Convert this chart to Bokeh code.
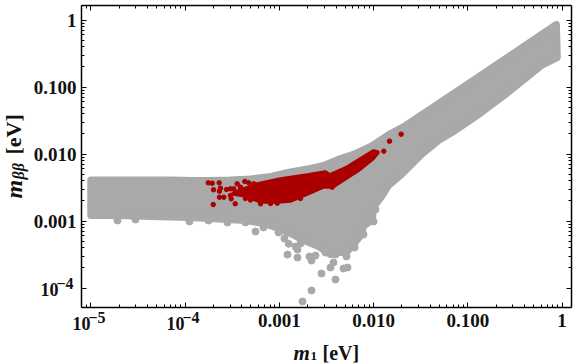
from math import pi
from bokeh.plotting import figure
from bokeh.models import LogAxis, FixedTicker, Label
from bokeh.embed import file_html
from bokeh.resources import INLINE

# log10 of m1 [eV] and m_bb [eV]
grey_band_log_m1 = [-5.00,-4.79,-4.58,-4.37,-4.15,-3.94,-3.73,-3.52,-3.31,-3.09,-2.88,-2.67,-2.53,-2.35,-2.19,-2.02,-1.82,-1.66,-1.31,-0.96,-0.60,-0.25,-0.06,
    -0.055,-0.05,-0.218,-0.60,-0.855,-1.131,-1.31,-1.491,-1.703,-1.841,-1.905,-2.00,-2.011,-2.107,-2.128,-2.213,-2.287,-2.372,-2.457,-2.584,-2.764,-2.86,-3.008,-3.168,-3.359,-3.55,-3.953,-4.367,-4.706,-5.00]
grey_band_log_mbb = [-2.388,-2.388,-2.388,-2.388,-2.388,-2.396,-2.396,-2.388,-2.373,-2.336,-2.269,-2.216,-2.172,-2.067,-1.993,-1.881,-1.694,-1.575,-1.246,-0.918,-0.575,-0.246,-0.067,
    -0.306,-0.56,-0.679,-1.112,-1.381,-1.649,-1.799,-2.007,-2.306,-2.470,-2.619,-2.799,-2.978,-3.082,-3.201,-3.351,-3.470,-3.470,-3.5,-3.381,-3.276,-3.201,-3.112,-3.037,-2.993,-2.978,-2.948,-2.933,-2.918,-2.918]
grey_stray_log_m1 = [-4.717,-4.526,-3.953,-3.751,-3.55,-3.359,-3.168,-3.008,-3.252,-2.913,-2.807,-2.807,-2.658,-2.68,-2.616,-2.457,-2.404,-2.425,-2.319,-2.276,-2.404,-2.552,-2.658,-2.754,-2.107,-2.0,-2.213,-2.775,-2.51,-2.9,
    -2.054,-1.979,-2.202,-2.287,-2.17,-2.828,-2.945]
grey_stray_log_mbb = [-2.993,-2.978,-3.007,-2.993,-3.022,-3.022,-3.097,-3.172,-3.157,-3.5,-3.545,-3.425,-3.590,-3.53,-3.515,-3.694,-3.5,-3.619,-3.709,-3.694,-3.873,-3.784,-4.037,-4.201,-3.201,-3.007,-3.366,-3.336,-3.47,-3.34,
    -2.903,-2.828,-3.396,-3.530,-3.261,-3.381,-3.261]
red_band_log_m1 = [-3.412,-3.231,-2.987,-2.701,-2.51,-2.467,-2.276,-2.139,-2.0,-1.958,-2.011,-2.17,-2.351,-2.436,-2.531,-2.701,-2.881,-3.019,-3.199,-3.359,-3.486]
red_band_log_mbb = [-2.545,-2.455,-2.381,-2.321,-2.276,-2.321,-2.201,-2.082,-1.963,-1.978,-2.067,-2.246,-2.410,-2.485,-2.485,-2.590,-2.694,-2.709,-2.709,-2.619,-2.590]
red_stray_log_m1 = [-3.754,-3.712,-3.638,-3.698,-3.624,-3.635,-3.635,-3.589,-3.518,-3.51,-3.701,-3.468,-3.447,-3.366,-3.324,-3.271,-3.56,-3.518,-3.483,-3.412,-3.199,-3.022,-2.439,-1.891,-1.831,-1.707,
    -3.093,-2.775,-3.359,-3.306]
red_stray_log_mbb = [-2.43,-2.436,-2.43,-2.534,-2.51,-2.555,-2.645,-2.645,-2.619,-2.669,-2.754,-2.743,-2.445,-2.41,-2.43,-2.445,-2.53,-2.52,-2.52,-2.495,-2.743,-2.734,-2.495,-1.958,-1.809,-1.704,
    -2.739,-2.664,-2.664,-2.687]
x_ticks = [1e-5,1e-4,1e-3,1e-2,1e-1,1.0]
x_tick_labels = ["","","0.001","0.010","0.100","1"]
y_ticks = [1e-4,1e-3,1e-2,1e-1,1.0]
y_tick_labels = ["","0.001","0.010","0.100","1"]

GREY = "#A9A9A9"
RED = "#AA0000"
FONT = "Liberation Serif"
W, H = 576, 364
L, R, T, B = 81, 571, 5, 307
ax = lambda v: [10**a for a in v]
# page pixel -> axis value: the plot area fills the page, the box is drawn by pinned axes
X = lambda px: 10**((px-90.3)/94.25-5)
Y = lambda py: 10**((19.5-py)/67)

p = figure(width=W, height=H, output_backend="svg", toolbar_location=None, x_axis_type="log", y_axis_type="log",
           x_axis_location=None, y_axis_location=None,
           x_range=(X(0), X(W)), y_range=(Y(H), Y(0)),
           min_border_left=0, min_border_right=0, min_border_top=0, min_border_bottom=0)
p.margin = (0, 0, 0, 0)
p.grid.visible = False
p.outline_line_color = None

p.patch(ax(grey_band_log_m1), ax(grey_band_log_mbb), color=GREY, line_width=7, line_join="round")
p.scatter(ax(grey_stray_log_m1), ax(grey_stray_log_mbb), size=7, color=GREY)
p.patch(ax(red_band_log_m1), ax(red_band_log_mbb), color=RED, line_width=4.5, line_join="round")
p.scatter(ax(red_stray_log_m1), ax(red_stray_log_mbb), size=4.5, color=RED)

def make_axis(side, ticks, labels=None):
    horizontal = side in ("below", "above")
    fixed = {"below": Y(B), "above": Y(T), "left": X(L), "right": X(R)}[side]
    bounds = (X(L), X(R)) if horizontal else (Y(B), Y(T))
    minor = [t*m for t in [1e-6]+ticks for m in range(2, 10) if bounds[0] < t*m < bounds[1]]
    a = LogAxis(ticker=FixedTicker(ticks=ticks, minor_ticks=minor), fixed_location=fixed, bounds=bounds,
                axis_line_color="black", axis_line_width=1.5,
                major_tick_in=5, major_tick_out=0, minor_tick_in=3, minor_tick_out=0,
                major_tick_line_color="black", minor_tick_line_color="black", major_tick_line_width=1,
                major_label_text_font=FONT, major_label_text_font_style="bold",
                major_label_text_font_size="19px", major_label_text_color="#111111",
                major_label_standoff=6 if side == "below" else 5,
                major_label_overrides=dict(zip(ticks, labels if labels else [""]*len(ticks))))
    p.add_layout(a, side)

make_axis("below", x_ticks, x_tick_labels)
make_axis("left", y_ticks, y_tick_labels)
make_axis("above", x_ticks)
make_axis("right", y_ticks)

def label(text, x, y, size, style="bold", angle=0):
    p.add_layout(Label(x=x, y=H-y, x_units="screen", y_units="screen", text=text, angle=angle,
                       text_font=FONT, text_font_style=style, text_font_size=f"{size}px",
                       text_color="#111111", text_baseline="alphabetic"))

label("m", 293, 352, 21, "bold italic")
label("1", 310, 355, 13)
label("[eV]", 322, 352, 20)
label("m", 13, 198, 24, "bold italic", pi/2)
label("ββ", 18, 179, 16, "bold italic", pi/2)
label("[eV]", 13, 154, 22, "bold", pi/2)
# powers of ten on the two logarithmic axes
label("10", 72, 323, 18); label("−5", 88, 317, 16)
label("10", 166, 323, 18); label("−4", 182, 317, 16)
label("10", 40, 289, 18); label("−4", 56, 283, 16)

open("out.html", "w").write(file_html(p, INLINE))
